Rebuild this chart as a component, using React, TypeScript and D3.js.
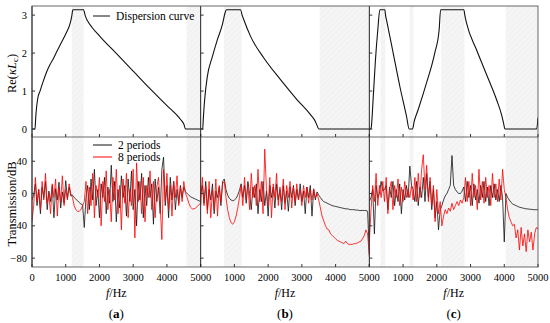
import React from "react";
import * as d3 from "d3";

const PI = Math.PI;

// dispersion curves Re(kL) per panel, [f, value]
const dispA = [[0,0],[89,0],[110,0.3],[139,0.6],[180,0.85],[238,1.0],[330,1.25],[436,1.51],[535,1.7],[635,1.86],[735,2.04],[833,2.21],[930,2.38],[1032,2.56],[1131,2.78],[1180,2.98],[1210,PI],[1528,PI],[1580,2.98],[1646,2.85],[1776,2.68],[2024,2.43],[2520,1.97],[3016,1.51],[3512,1.05],[4008,0.61],[4405,0.25],[4500,0.13],[4554,0],[5000,0]];
const dispB = [[0,0],[60,0],[80,0.3],[118,0.77],[197,1.38],[345,1.9],[493,2.35],[641,2.74],[720,3.05],[760,PI],[1183,PI],[1230,3.0],[1282,2.87],[1479,2.44],[1873,1.87],[2367,1.3],[2860,0.77],[3254,0.38],[3400,0.2],[3452,0.09],[3501,0],[5000,0]];
const dispC = [[0,0],[50,0],[64,0.1],[120,0.9],[180,1.8],[250,2.6],[312,PI],[460,PI],[480,3.0],[510,2.87],[707,2.0],[905,1.12],[1103,0.33],[1181,0],[1281,0],[1330,0.2],[1444,0.5],[1691,1.2],[1939,2.0],[2068,2.6],[2113,PI],[2804,PI],[2830,3.0],[2884,2.78],[3180,2.08],[3477,1.43],[3773,0.77],[3921,0.37],[3980,0.15],[4021,0],[4960,0],[5000,0.3]];

// band gaps (shaded), Hz
const gapsA = [[1180,1530],[4580,5000]];
const gapsB = [[690,1215],[3530,5000]];
const gapsC = [[330,475],[1190,1310],[2130,2820],[4040,5000]];

// transmission (dB) sampled every 50 Hz, 0..5000
const aBlack = [-8,-2,12,-15,5,-25,8,-5,15,-20,3,-10,10,-30,6,-8,14,-18,2,-12,16,-6,8,-3,-2,-5,-7,-9,-11,-13,-14,-42,-5,10,-20,18,-8,30,-15,5,-30,12,-5,20,-25,8,-12,35,-10,15,-35,5,-18,22,-5,10,-28,18,-10,28,-20,5,-40,15,-8,25,-30,10,-15,20,-5,12,-38,18,-10,8,-25,30,45,-15,10,-30,20,-8,15,-20,5,-12,10,-5,8,2,0,-2,-4,-5,-6,-7,-8,-9,-10];
const aRed = [-35,-15,20,-10,5,-20,15,-8,25,-12,0,-25,12,-5,18,-28,8,-10,22,-15,5,-8,12,0,-5,-15,-20,-22,-22,-20,-15,-10,15,-25,8,-15,25,-30,10,-5,20,-40,15,-10,28,-20,5,-35,20,-8,30,-25,10,-45,18,-12,25,-30,5,-15,30,-55,38,-10,15,-25,20,-35,10,-5,28,-20,15,-30,8,20,-15,-57,30,-10,25,-20,10,-28,15,-5,22,-15,8,-10,15,0,-5,-12,-17,-19,-19,-18,-16,-14,-12];
const bBlack = [0,10,-12,15,-20,5,-8,12,-25,3,-5,8,-15,15,18,5,-2,-6,-8,-9,-8,-6,-2,4,12,-5,10,-12,15,0,-20,8,-5,12,-25,5,-10,15,-15,3,-28,10,-5,8,-18,12,-8,5,-20,10,-12,3,-22,8,-5,10,-15,5,-8,12,-10,3,-25,8,-5,10,-28,5,-8,2,-2,-5,-8,-10,-11,-12,-13,-14,-15,-15.5,-16,-16.5,-17,-17.5,-18,-18.5,-19,-19,-19.5,-20,-20,-20,-20.5,-20.5,-21,-21,-21,-21,-21,-22,-75];
const bRed = [-15,20,-15,10,-25,15,-30,5,-20,18,-28,10,-10,12,15,-5,-20,-30,-36,-38,-35,-28,-18,-5,10,-15,20,-8,12,-20,25,-5,10,-15,30,-10,15,-25,55,5,-15,20,-30,12,-5,25,-15,8,-10,18,-20,10,-5,15,-18,8,-10,12,-8,5,-15,10,-5,8,-12,5,-8,6,-5,0,-8,-18,-28,-34,-40,-44,-45,-50,-52,-54,-56,-58,-59,-60,-61,-62,-59,-62,-63,-63,-63,-62,-62,-61,-60,-59,-56,-52,-45,-50,-78];
const cBlack = [-10,-5,5,-50,10,-5,0,15,3,5,10,-20,8,-5,15,-15,5,-10,12,-25,5,-8,10,-5,34,10,5,-10,15,-15,8,-5,20,-10,25,-5,15,-20,5,-30,-10,-45,-20,-15,-8,-3,0,5,10,47,10,5,2,0,0,3,8,-10,15,-5,10,-15,12,-8,5,-12,10,-5,15,-10,8,-15,10,-5,12,-8,5,-10,10,-5,-60,0,-5,-8,-11,-13,-14,-15,-16,-17,-17.5,-18,-18.5,-19,-19,-19.5,-19.5,-20,-20,-20,-20];
const cRed = [-60,-20,10,-10,25,-15,10,-5,15,-10,20,-25,5,15,-20,10,-5,18,-15,8,-10,15,-5,5,-5,10,-8,20,-10,25,-5,30,48,5,35,-10,20,-15,10,-35,5,-25,-10,-40,-28,-20,-25,-18,-22,-12,-20,-15,-10,-15,-8,-12,-5,20,-10,15,-15,25,-5,10,-20,30,-8,15,-12,20,-5,10,-15,25,-5,12,-10,18,-8,30,5,-5,-20,-30,-35,-40,-38,-55,-45,-70,-42,-65,-50,-72,-45,-60,-48,-70,-50,-42,-44];

const freqGrid = d3.range(0, 5001, 50);
const xTicks = [0, 1000, 2000, 3000, 4000, 5000];
const yTopTicks = [0, 1, 2, 3];
const yBotTicks = [-80, -40, 0, 40];
const panelTags = ["a", "b", "c"];

const panels = [
  { disp: dispA, gaps: gapsA, black: aBlack, red: aRed },
  { disp: dispB, gaps: gapsB, black: bBlack, red: bRed },
  { disp: dispC, gaps: gapsC, black: cBlack, red: cRed },
];

const W = 550, H = 323;
const left = 32, right = 538, top = 6, mid = 137, bottom = 267;
const pw = (right - left) / 3;
const font = "Liberation Serif, Times New Roman, serif";

const yTop = d3.scaleLinear().domain([-0.21, 3.24]).range([mid, top]);
const yBot = d3.scaleLinear().domain([-91, 70]).range([bottom, mid]);

export default function App() {
  return (
    <div style={{ position: "absolute", left: 0, top: 0 }}>
      <svg width={W} height={H} style={{ display: "block", background: "#fff" }} fontFamily={font}>
        <defs>
          <pattern id="hatch" width="4" height="4" patternUnits="userSpaceOnUse" patternTransform="rotate(45)">
            <rect width="4" height="4" fill="#f5f5f5" />
            <line x1="0" y1="0" x2="0" y2="4" stroke="#efefef" strokeWidth="1.5" />
          </pattern>
          {panels.map((_, k) => (
            <clipPath id={`clip${k}`} key={k}>
              <rect x={left + k * pw} y={top} width={pw} height={bottom - top} />
            </clipPath>
          ))}
        </defs>
        {panels.map((p, k) => {
          const x = d3.scaleLinear().domain([0, 5000]).range([left + k * pw, left + (k + 1) * pw]);
          const dispLine = d3.line<number[]>().x((d) => x(d[0])).y((d) => yTop(d[1])).curve(d3.curveMonotoneX);
          const tLine = d3.line<number>().x((_, i) => x(freqGrid[i])).y((d) => yBot(d));
          return (
            <g key={k}>
              {p.gaps.map((g, j) => (
                <rect key={j} x={x(g[0])} y={top} width={x(g[1]) - x(g[0])} height={bottom - top} fill="url(#hatch)" />
              ))}
              <g clipPath={`url(#clip${k})`}>
                <path d={dispLine(p.disp) || ""} fill="none" stroke="#111" strokeWidth={1.1} />
                <path d={tLine(p.black) || ""} fill="none" stroke="#111" strokeWidth={0.8} />
                <path d={tLine(p.red) || ""} fill="none" stroke="#ff0000" strokeWidth={0.8} />
              </g>
              {xTicks.map((t) => (
                <g key={t}>
                  <line x1={x(t)} x2={x(t)} y1={mid} y2={mid - 3} stroke="#333" />
                  <line x1={x(t)} x2={x(t)} y1={bottom} y2={bottom - 3} stroke="#333" />
                  {(k === 0 || t > 0) && (
                    <text x={x(t)} y={281} fontSize={10.5} textAnchor="middle">{t}</text>
                  )}
                </g>
              ))}
              {yTopTicks.map((t) => (
                <line key={t} x1={x(0)} x2={x(0) + 3} y1={yTop(t)} y2={yTop(t)} stroke="#333" />
              ))}
              {yBotTicks.map((t) => (
                <line key={t} x1={x(0)} x2={x(0) + 3} y1={yBot(t)} y2={yBot(t)} stroke="#333" />
              ))}
              <text x={x(2500)} y={297} fontSize={12} textAnchor="middle">
                <tspan fontStyle="italic">f</tspan>/Hz
              </text>
              <text x={x(2500)} y={318} fontSize={13} textAnchor="middle">
                (<tspan fontWeight="bold">{panelTags[k]}</tspan>)
              </text>
              <line x1={x(0)} x2={x(0)} y1={top} y2={bottom} stroke="#222" strokeWidth={1} />
            </g>
          );
        })}
        <rect x={left} y={top} width={right - left} height={bottom - top} fill="none" stroke="#444" strokeWidth={0.8} />
        <line x1={left} x2={right} y1={mid} y2={mid} stroke="#444" strokeWidth={0.8} />
        {yTopTicks.map((t) => (
          <text key={t} x={27} y={yTop(t) + 3.5} fontSize={10.5} textAnchor="end">{t}</text>
        ))}
        {yBotTicks.map((t) => (
          <text key={t} x={27} y={yBot(t) + 3.5} fontSize={10.5} textAnchor="end">{t < 0 ? `\u2212${-t}` : t}</text>
        ))}
        <text transform={`translate(16,${(top + mid) / 2 + 2}) rotate(-90)`} fontSize={12.5} textAnchor="middle">
          Re(<tspan fontStyle="italic">κL</tspan><tspan fontSize={9} dy={2}>c</tspan><tspan dy={-2}>)</tspan>
        </text>
        <text transform={`translate(16,${(mid + bottom) / 2 + 2}) rotate(-90)`} fontSize={12.5} textAnchor="middle">
          Transmission/dB
        </text>
        <line x1={93} x2={110} y1={16} y2={16} stroke="#111" strokeWidth={1} />
        <text x={116} y={19.5} fontSize={11.5}>Dispersion curve</text>
        <line x1={93} x2={112} y1={145} y2={145} stroke="#111" strokeWidth={1} />
        <text x={118} y={148.5} fontSize={11.5}>2 periods</text>
        <line x1={93} x2={112} y1={157} y2={157} stroke="#ff0000" strokeWidth={1} />
        <text x={118} y={160.5} fontSize={11.5}>8 periods</text>
      </svg>
    </div>
  );
}
